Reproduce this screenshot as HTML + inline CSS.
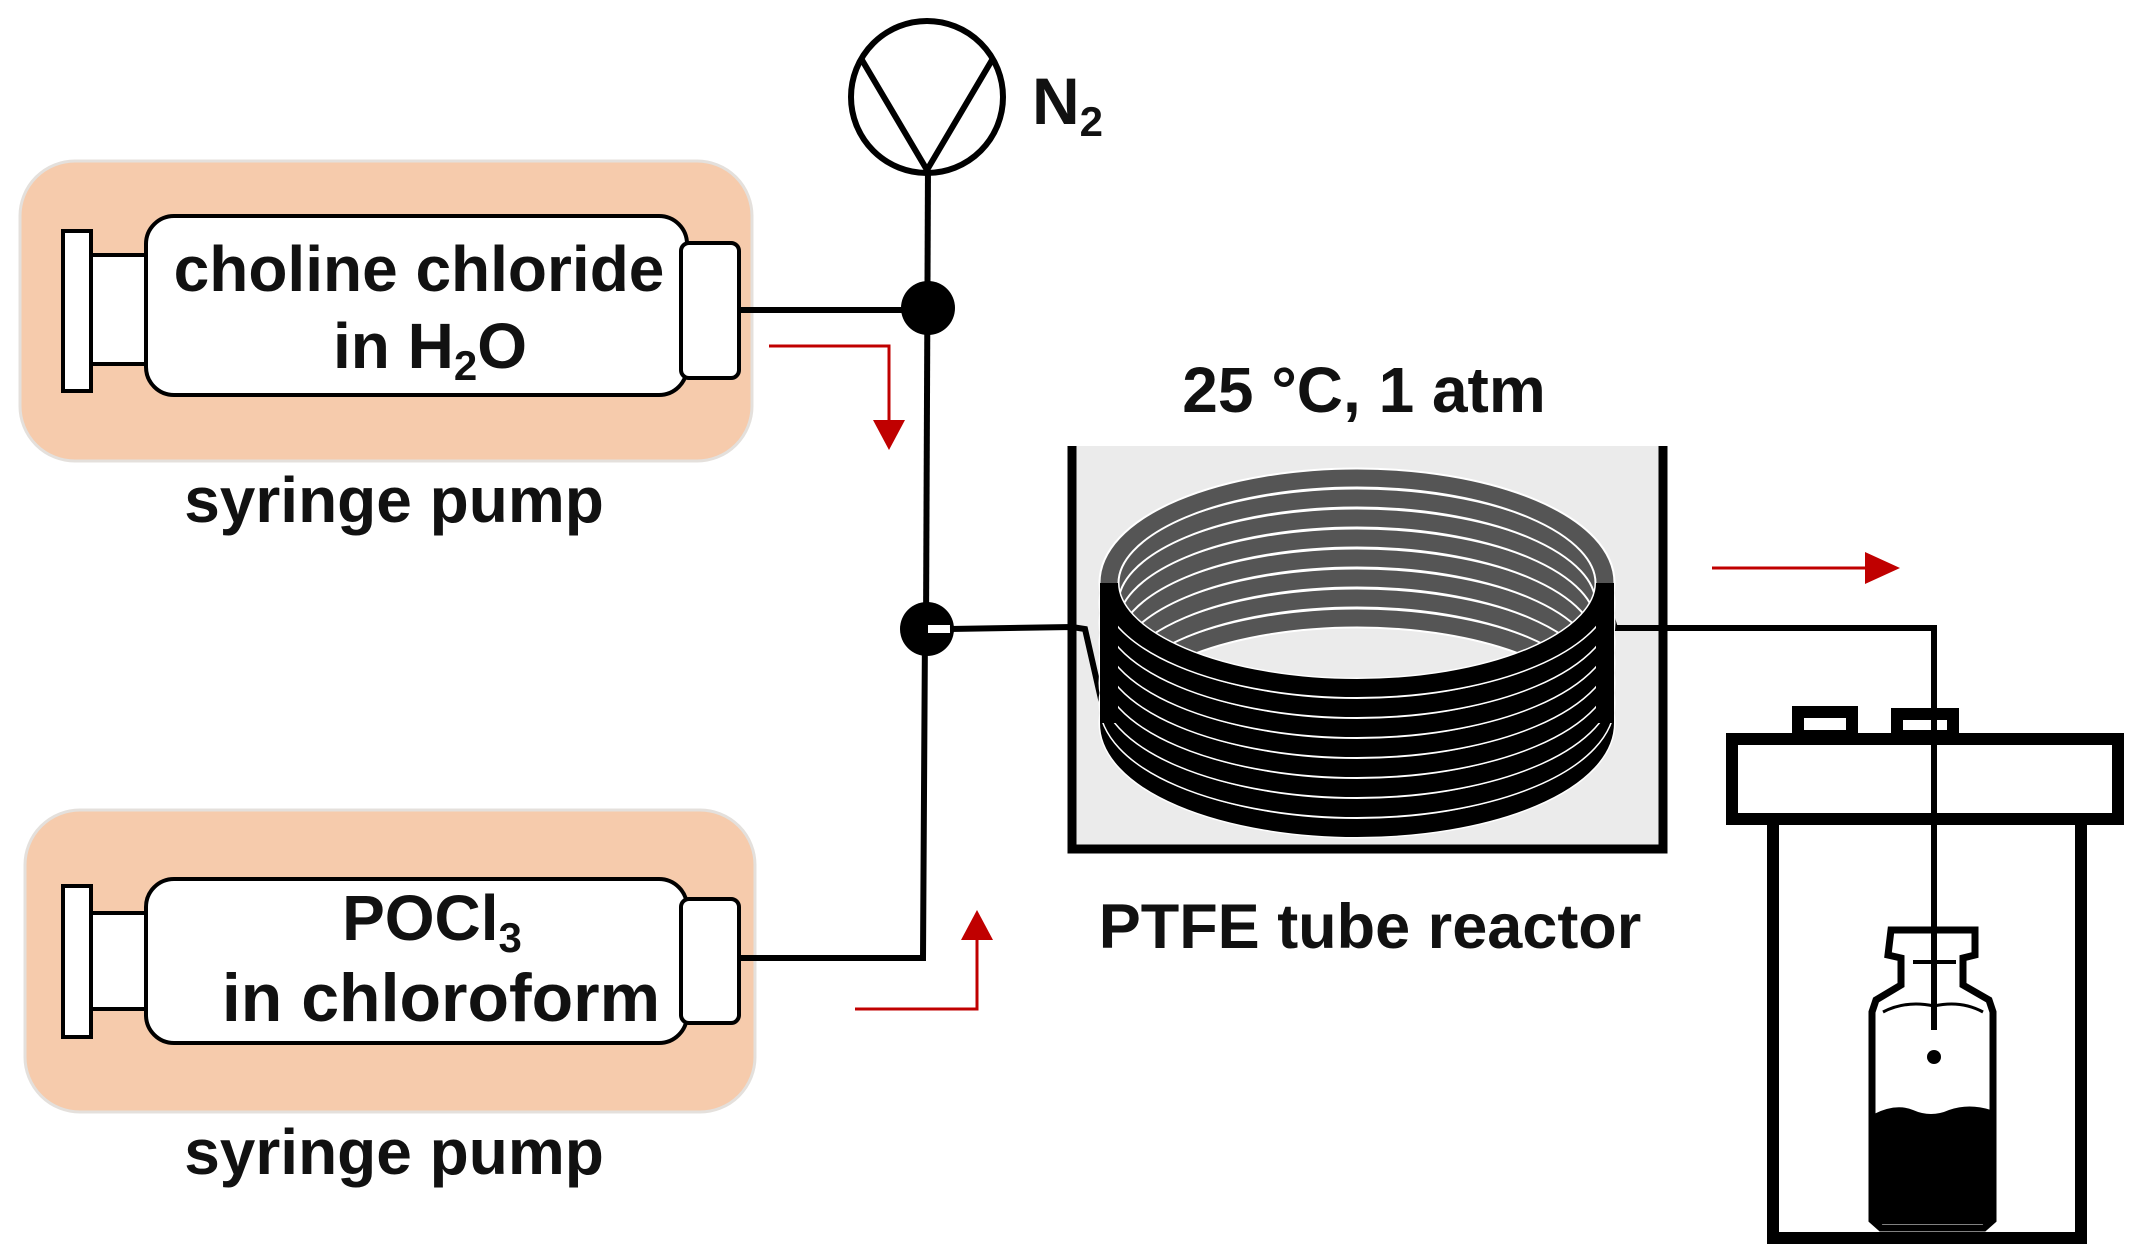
<!DOCTYPE html>
<html><head><meta charset="utf-8"><style>
html,body{margin:0;padding:0;background:#fff}
svg{display:block}
text{font-family:"Liberation Sans",sans-serif;font-weight:bold;fill:#111}
</style></head><body>
<svg width="2142" height="1251" viewBox="0 0 2142 1251" xmlns="http://www.w3.org/2000/svg">
<rect x="20" y="161" width="732" height="300" rx="55" fill="#f6cbac" stroke="#e4e0dc" stroke-width="3"/>
<rect x="25" y="810" width="730" height="302" rx="55" fill="#f6cbac" stroke="#e4e0dc" stroke-width="3"/>

<g fill="#fff" stroke="#000" stroke-width="4">
<rect x="63" y="231" width="28" height="160"/>
<rect x="91" y="255" width="57" height="109"/>
<rect x="146" y="216" width="541" height="179" rx="28"/>
<rect x="681" y="243" width="58" height="135" rx="8"/>
<rect x="63" y="886" width="28" height="151"/>
<rect x="91" y="913" width="57" height="96"/>
<rect x="146" y="879" width="541" height="164" rx="28"/>
<rect x="681" y="899" width="58" height="124" rx="8"/>
</g>
<text x="419" y="291" font-size="64" text-anchor="middle">choline chloride</text>
<text x="430" y="368" font-size="64" text-anchor="middle">in H<tspan font-size="42" dy="12">2</tspan><tspan dy="-12">O</tspan></text>
<text x="432" y="940" font-size="64" text-anchor="middle">POCl<tspan font-size="42" dy="12">3</tspan></text>
<text x="441" y="1021" font-size="68" text-anchor="middle">in chloroform</text>
<text x="394" y="522" font-size="64" text-anchor="middle">syringe pump</text>
<text x="394" y="1174" font-size="64" text-anchor="middle">syringe pump</text>

<g stroke="#000" stroke-width="6" fill="none">
<line x1="739" y1="310" x2="928" y2="310"/>
<line x1="928" y1="165" x2="926" y2="629"/>
<polyline points="739,958 923,958 925,629"/>
</g>
<circle cx="927" cy="97" r="76" fill="#fff" stroke="#000" stroke-width="6"/>
<polyline points="862,60 927,170 992,60" fill="none" stroke="#000" stroke-width="6"/>
<text x="1032" y="124" font-size="66">N<tspan font-size="42" dy="12">2</tspan></text>
<circle cx="928" cy="308" r="27" fill="#000"/>
<circle cx="927" cy="629" r="27" fill="#000"/>
<rect x="928" y="625" width="22" height="8" fill="#fff"/>

<g stroke="#c00000" stroke-width="3" fill="none">
<polyline points="769,346 889,346 889,425"/>
<polyline points="855,1009 977,1009 977,935"/>
<line x1="1712" y1="568" x2="1870" y2="568"/>
</g>
<g fill="#c00000">
<polygon points="873,420 905,420 889,450"/>
<polygon points="961,940 993,940 977,910"/>
<polygon points="1865,552 1865,584 1900,568"/>
</g>

<text x="1364" y="412" font-size="64" text-anchor="middle">25 °C, 1 atm</text>
<rect x="1072" y="446" width="591" height="403" fill="#ebebeb"/>
<polyline points="1072,446 1072,849 1663,849 1663,446" fill="none" stroke="#000" stroke-width="9"/>
<polyline points="950,629 1072,627 1085,629 1108,730" fill="none" stroke="#000" stroke-width="6"/>
<polyline points="1600,580 1615,628 1934,628 1934,1030" fill="none" stroke="#000" stroke-width="6"/>

<g fill="none">
<path d="M1109,723 A248,105 0 0 1 1605,723" stroke="#fff" stroke-width="21"/><path d="M1109,723 A248,105 0 0 1 1605,723" stroke="#555" stroke-width="17"/>
<path d="M1109,703 A248,105 0 0 1 1605,703" stroke="#fff" stroke-width="21"/><path d="M1109,703 A248,105 0 0 1 1605,703" stroke="#555" stroke-width="17"/>
<path d="M1109,683 A248,105 0 0 1 1605,683" stroke="#fff" stroke-width="21"/><path d="M1109,683 A248,105 0 0 1 1605,683" stroke="#555" stroke-width="17"/>
<path d="M1109,663 A248,105 0 0 1 1605,663" stroke="#fff" stroke-width="21"/><path d="M1109,663 A248,105 0 0 1 1605,663" stroke="#555" stroke-width="17"/>
<path d="M1109,643 A248,105 0 0 1 1605,643" stroke="#fff" stroke-width="21"/><path d="M1109,643 A248,105 0 0 1 1605,643" stroke="#555" stroke-width="17"/>
<path d="M1109,623 A248,105 0 0 1 1605,623" stroke="#fff" stroke-width="21"/><path d="M1109,623 A248,105 0 0 1 1605,623" stroke="#555" stroke-width="17"/>
<path d="M1109,603 A248,105 0 0 1 1605,603" stroke="#fff" stroke-width="21"/><path d="M1109,603 A248,105 0 0 1 1605,603" stroke="#555" stroke-width="17"/>
<path d="M1109,583 A248,105 0 0 1 1605,583" stroke="#fff" stroke-width="21"/><path d="M1109,583 A248,105 0 0 1 1605,583" stroke="#555" stroke-width="17"/>
<path d="M1109,723 A248,105 0 0 0 1605,723" stroke="#fff" stroke-width="21"/><path d="M1109,723 A248,105 0 0 0 1605,723" stroke="#000" stroke-width="18"/>
<path d="M1109,703 A248,105 0 0 0 1605,703" stroke="#fff" stroke-width="21"/><path d="M1109,703 A248,105 0 0 0 1605,703" stroke="#000" stroke-width="18"/>
<path d="M1109,683 A248,105 0 0 0 1605,683" stroke="#fff" stroke-width="21"/><path d="M1109,683 A248,105 0 0 0 1605,683" stroke="#000" stroke-width="18"/>
<path d="M1109,663 A248,105 0 0 0 1605,663" stroke="#fff" stroke-width="21"/><path d="M1109,663 A248,105 0 0 0 1605,663" stroke="#000" stroke-width="18"/>
<path d="M1109,643 A248,105 0 0 0 1605,643" stroke="#fff" stroke-width="21"/><path d="M1109,643 A248,105 0 0 0 1605,643" stroke="#000" stroke-width="18"/>
<path d="M1109,623 A248,105 0 0 0 1605,623" stroke="#fff" stroke-width="21"/><path d="M1109,623 A248,105 0 0 0 1605,623" stroke="#000" stroke-width="18"/>
<path d="M1109,603 A248,105 0 0 0 1605,603" stroke="#fff" stroke-width="21"/><path d="M1109,603 A248,105 0 0 0 1605,603" stroke="#000" stroke-width="18"/>
<path d="M1109,583 A248,105 0 0 0 1605,583" stroke="#fff" stroke-width="21"/><path d="M1109,583 A248,105 0 0 0 1605,583" stroke="#000" stroke-width="18"/>
</g>
<rect x="1100" y="583" width="18" height="140" fill="#000"/>
<rect x="1596" y="583" width="18" height="140" fill="#000"/>
<text x="1370" y="948" font-size="63" text-anchor="middle">PTFE tube reactor</text>

<g transform="translate(-9,0)">
<g fill="#fff" stroke="#000" stroke-width="12">
<rect x="1807" y="712" width="54" height="24"/>
<rect x="1906" y="714" width="56" height="22"/>
<rect x="1782" y="812" width="308" height="426"/>
<rect x="1741" y="739" width="386" height="80"/>
</g>
<path d="M1900,930 L1984,930 L1984,955 L1972,958 L1972,985 L1998,1000 L2002,1012 L2002,1220 L1993,1228 L1890,1228 L1881,1220 L1881,1012 L1885,1000 L1910,985 L1910,958 L1897,955 Z" fill="#fff" stroke="#000" stroke-width="7"/>
<path d="M1883,1114 Q1905,1103 1922,1110 Q1940,1118 1958,1110 Q1978,1103 2000,1110 L2000,1224 L1883,1224 Z" fill="#000"/>
<line x1="1943" y1="700" x2="1943" y2="1030" stroke="#000" stroke-width="6"/>
<line x1="1922" y1="962" x2="1965" y2="962" stroke="#000" stroke-width="4"/>
<path d="M1892,1012 Q1915,1000 1943,1006 Q1970,1000 1992,1012" fill="none" stroke="#000" stroke-width="3"/>
<circle cx="1943" cy="1057" r="7" fill="#000"/>
</g>
</svg>
</body></html>
